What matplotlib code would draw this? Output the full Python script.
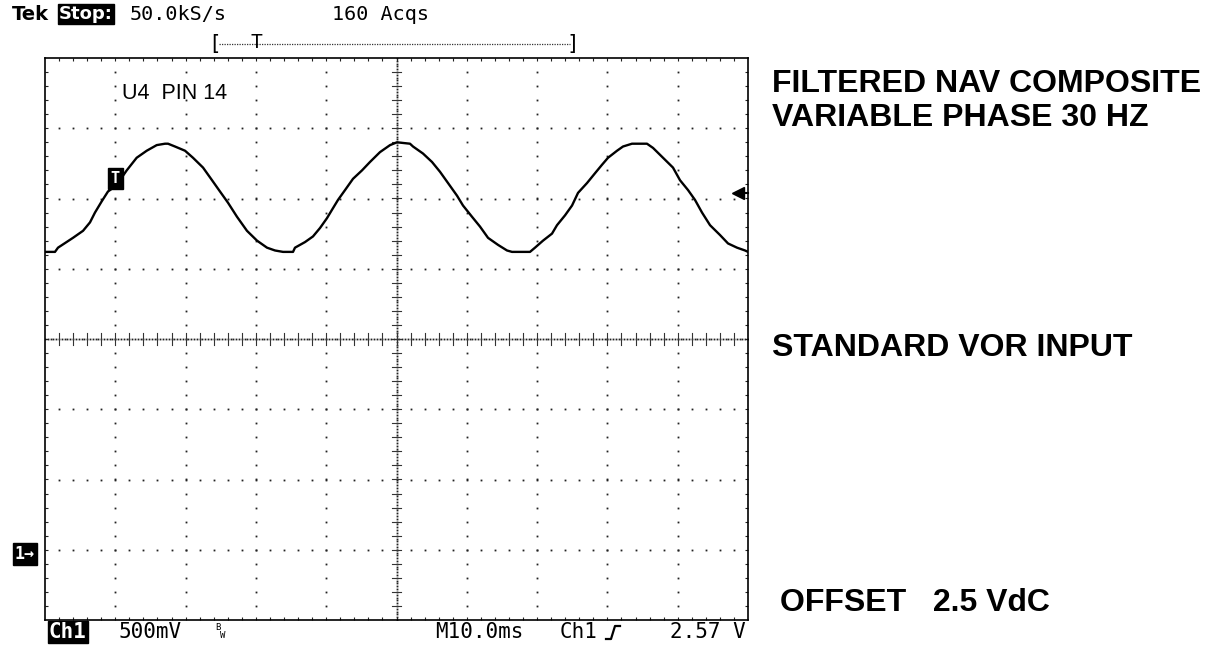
import numpy as np
import matplotlib
matplotlib.use("Agg")
import matplotlib.pyplot as plt
from matplotlib.lines import Line2D
from matplotlib.transforms import blended_transform_factory

# Channel 1 trace: time from left edge (ms) and voltage (V)
time_ms = [0.0, 1.42, 1.85, 3.98, 5.41, 6.40, 7.11, 8.07, 8.96, 10.1, 11.62, 13.04, 14.47, 15.89, 17.07,
           17.50, 18.49, 19.92, 21.05, 22.48, 23.76, 24.89, 26.03, 27.31, 28.73, 30.16, 31.58, 32.72, 33.86, 35.28,
           35.56, 36.99, 38.12, 39.12, 40.11, 40.83, 41.68, 42.68, 43.81, 45.09, 46.23, 47.65, 49.08, 50.07, 51.92,
           52.35, 53.77, 55.05, 56.19, 57.33, 58.61, 59.46, 60.74, 61.88, 63.02, 64.44, 65.72, 66.43, 68.99,
           69.70, 70.84, 72.12, 72.83, 73.97, 74.97, 75.82, 77.10, 78.24, 79.23, 80.09, 81.37, 82.22, 83.50, 84.64,
           85.63, 86.49, 87.91, 89.33, 90.33, 91.47, 92.46, 93.46, 94.60, 96.02, 97.16, 98.44, 99.58, 100.0]
volts = [2.15, 2.15, 2.18, 2.25, 2.30, 2.36, 2.43, 2.51, 2.58, 2.62, 2.73, 2.82, 2.87, 2.91, 2.92,
         2.92, 2.90, 2.87, 2.82, 2.75, 2.66, 2.58, 2.50, 2.40, 2.30, 2.23, 2.18, 2.16, 2.15, 2.15,
         2.18, 2.22, 2.26, 2.32, 2.39, 2.45, 2.52, 2.59, 2.67, 2.73, 2.79, 2.86, 2.91, 2.93, 2.92,
         2.90, 2.85, 2.79, 2.72, 2.64, 2.55, 2.48, 2.40, 2.33, 2.25, 2.20, 2.16, 2.15, 2.15,
         2.18, 2.23, 2.28, 2.34, 2.41, 2.48, 2.57, 2.64, 2.71, 2.77, 2.82, 2.87, 2.90, 2.92, 2.92,
         2.92, 2.89, 2.82, 2.75, 2.66, 2.59, 2.52, 2.43, 2.34, 2.27, 2.21, 2.18, 2.16, 2.15]

MS_PER_DIV = 10.0
VOLTS_PER_DIV = 0.5
GROUND_DIV = -3.06
TRIG_TIME_MS = 10.0
TRIG_LEVEL_V = 2.57

header_labels = ["50.0kS/s", "160 Acqs"]
footer_labels = ["500mV", "M10.0ms", "Ch1", "2.57 V"]
note_labels = ["FILTERED NAV COMPOSITE", "VARIABLE PHASE 30 HZ", "STANDARD VOR INPUT", "OFFSET   2.5 VdC"]
probe_label = "U4  PIN 14"

W, H = 1212, 647
MONO = "DejaVu Sans Mono"
SANS = "Liberation Sans"


def fx(x):
    return x / W


def fy(y):
    return 1 - y / H


fig = plt.figure(figsize=(W / 100, H / 100), dpi=100, facecolor="white")
ax = fig.add_axes([fx(45), fy(620), (748 - 45) / W, (620 - 58) / H])
ax.set_xlim(0, 10)
ax.set_ylim(-4, 4)
ax.set_facecolor("white")

# graticule
dot = dict(ls="none", marker="s", ms=1.3, mew=0, color="#222")
fine = np.arange(-4, 4.001, 0.2)[1:-1]
finex = np.arange(0, 10.001, 0.2)[1:-1]
for gx in [1, 2, 3, 4, 6, 7, 8, 9]:
    ax.plot(np.full_like(fine, gx), fine, **dot)
for gy in [-3, -2, -1, 1, 2, 3]:
    ax.plot(finex, np.full_like(finex, gy), **dot)
dense_x = np.arange(0, 10.001, 0.04)
dense_y = np.arange(-4, 4.001, 0.04)
ax.plot(dense_x, np.zeros_like(dense_x), **dot)
ax.plot(np.full_like(dense_y, 5), dense_y, **dot)
for tx in finex:
    ax.plot([tx, tx], [-0.08, 0.08], color="#333", lw=0.8)
for ty in fine:
    ax.plot([4.935, 5.065], [ty, ty], color="#333", lw=0.8)

ax.set_xticks(finex)
ax.set_yticks(fine)
ax.tick_params(which="both", direction="in", length=2.5, width=0.8, color="#222",
               top=True, right=True, labelbottom=False, labelleft=False)
for s in ax.spines.values():
    s.set_linewidth(1.2)
    s.set_color("black")

# trace
x_div = np.array(time_ms) / MS_PER_DIV
y_div = np.array(volts) / VOLTS_PER_DIV + GROUND_DIV
ax.plot(x_div, y_div, color="black", lw=1.7)

trig_div = TRIG_LEVEL_V / VOLTS_PER_DIV + GROUND_DIV
ax.text(TRIG_TIME_MS / MS_PER_DIV, trig_div + 0.2, "T", color="white", fontsize=11, fontweight="bold",
        family=MONO, ha="center", va="center",
        bbox=dict(boxstyle="square,pad=0.2", fc="black", ec="black"))
ax.plot([9.84, 10.0], [trig_div, trig_div], color="black", lw=1.5, clip_on=False)
ax.plot(9.86, trig_div, marker="<", ms=8.5, color="black", clip_on=False)

ax.text(1.1, 3.5, probe_label, fontsize=15.5, family=SANS, ha="left", va="center")

# ground marker
gtrans = blended_transform_factory(fig.transFigure, ax.transData)
ax.text(fx(15), GROUND_DIV, "1\u2192", transform=gtrans, color="white", fontsize=12, fontweight="bold",
        family=MONO, ha="left", va="center",
        bbox=dict(boxstyle="square,pad=0.1", fc="black", ec="black"))

# header
fig.text(fx(12), fy(14), "Tek", fontsize=14, fontweight="bold", family="DejaVu Sans", ha="left", va="center")
fig.text(fx(59), fy(14), "Stop:", fontsize=13, fontweight="bold", family="DejaVu Sans", color="white",
         ha="left", va="center", bbox=dict(boxstyle="square,pad=0.05", fc="black", ec="black"))
fig.text(fx(130), fy(14), header_labels[0], fontsize=14.5, family=MONO, ha="left", va="center")
fig.text(fx(332), fy(14), header_labels[1], fontsize=14.5, family=MONO, ha="left", va="center")

fig.text(fx(215), fy(44), "[", fontsize=15, family=MONO, ha="center", va="center")
fig.text(fx(573), fy(44), "]", fontsize=15, family=MONO, ha="center", va="center")
fig.add_artist(Line2D([fx(219), fx(570)], [fy(44), fy(44)], color="#333", lw=0.9, ls=(0, (1, 1))))
fig.text(fx(256), fy(43), "T", fontsize=14, family=MONO, ha="center", va="center")

# footer
fig.text(fx(49), fy(632), "Ch1", fontsize=15, fontweight="bold", family=MONO, color="white",
         ha="left", va="center", bbox=dict(boxstyle="square,pad=0.05", fc="black", ec="black"))
fig.text(fx(119), fy(632), footer_labels[0], fontsize=15, family=MONO, ha="left", va="center")
fig.text(fx(215), fy(627), "B", fontsize=6.5, family=MONO, ha="left", va="center")
fig.text(fx(220), fy(635), "W", fontsize=6.5, family=MONO, ha="left", va="center")
fig.text(fx(435), fy(632), footer_labels[1], fontsize=15, family=MONO, ha="left", va="center")
fig.text(fx(560), fy(632), footer_labels[2], fontsize=15, family=MONO, ha="left", va="center")
fig.add_artist(Line2D([fx(606), fx(611), fx(615), fx(620)], [fy(639), fy(639), fy(626), fy(626)],
                      color="black", lw=1.6))
fig.text(fx(746), fy(632), footer_labels[3], fontsize=15, family=MONO, ha="right", va="center")

# annotations on the right
fig.text(fx(772), fy(84), note_labels[0], fontsize=23, fontweight="bold", family=SANS, ha="left", va="center")
fig.text(fx(772), fy(118), note_labels[1], fontsize=23, fontweight="bold", family=SANS, ha="left", va="center")
fig.text(fx(772), fy(348), note_labels[2], fontsize=23, fontweight="bold", family=SANS, ha="left", va="center")
fig.text(fx(780), fy(603), note_labels[3], fontsize=23, fontweight="bold", family=SANS, ha="left", va="center")

fig.savefig("out.png", dpi=100, facecolor="white")
